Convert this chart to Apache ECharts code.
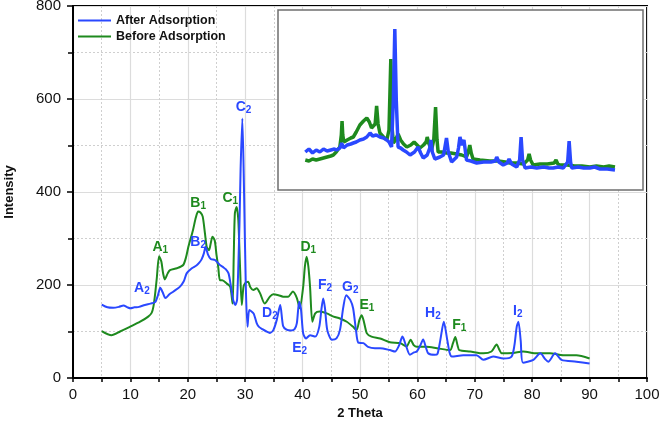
<!DOCTYPE html>
<html><head><meta charset="utf-8">
<script src="https://cdn.jsdelivr.net/npm/echarts@6/dist/echarts.min.js"></script>
<style>html,body{margin:0;padding:0;background:#fff}#c{width:660px;height:429px}</style>
</head><body><div id="c"></div>
<script>
// ---- data (2 Theta, Intensity) ----
const afterMain = [[5,158],[6,152],[7,151],[8,153],[8.8,156],[9.5,152],[10,150],[10.7,152],[11.5,153],[12.5,157],[13.5,160],[14.3,163],[14.8,178],[15.2,194],[15.6,185],[16.1,172],[16.8,180],[17.5,186],[18.6,196],[19.3,208],[19.8,225],[20.7,236],[21.5,242],[22.0,248],[22.4,255],[22.8,268],[23.1,282],[23.5,266],[24.0,256],[24.7,254],[25.3,247],[25.6,243],[26.2,238],[26.6,234],[27.1,225],[27.5,198],[27.9,168],[28.3,157],[28.6,170],[29.0,330],[29.2,450],[29.5,558],[29.8,400],[30.1,200],[30.4,110],[30.7,146],[31.1,143],[31.5,138],[32.0,118],[32.4,110],[33.0,105],[33.7,100],[34.3,97],[34.9,103],[35.5,125],[36.1,157],[36.6,112],[37.2,104],[38.0,102],[38.6,105],[39.0,118],[39.4,164],[39.7,150],[40.1,96],[40.6,85],[41.3,92],[42.2,89],[42.9,110],[43.3,150],[43.6,171],[43.9,150],[44.3,103],[45.1,82],[45.9,85],[46.5,103],[47.1,153],[47.6,178],[48.3,168],[48.8,150],[49.3,103],[49.7,76],[50.6,75],[51.4,67],[52.6,64],[53.5,64],[55.2,60],[56.1,57],[56.8,70],[57.4,89],[58.0,70],[58.7,50],[59.4,55],[59.9,57],[60.5,70],[61.0,83],[61.5,65],[61.9,53],[63.0,50],[63.5,52],[64.0,82],[64.6,121],[65.2,82],[65.6,55],[66.0,46],[68.0,49],[70.3,49],[71.5,39],[73.2,46],[75.0,42],[76.4,46],[76.9,70],[77.3,110],[77.6,121],[78.0,80],[78.4,33],[80.2,39],[81.4,53],[82.3,40],[82.8,35],[84.0,53],[85.1,39],[87.7,35],[90.0,31]];
const beforeMain = [[5,101],[6.7,92],[8.2,100],[9.9,110],[11.7,121],[13.1,132],[13.7,140],[14.0,153],[14.3,180],[14.6,215],[15.0,262],[15.4,250],[15.7,225],[16.0,212],[16.5,225],[16.9,232],[18.1,236],[19.2,243],[19.7,260],[20.1,282],[20.9,318],[21.4,345],[21.8,358],[22.2,356],[22.6,347],[23.0,310],[23.3,282],[23.7,275],[24.0,290],[24.3,304],[24.7,295],[25.0,265],[25.3,239],[25.6,210],[26.0,210],[26.8,203],[27.4,196],[27.8,160],[28.0,260],[28.2,354],[28.5,368],[28.8,340],[29.1,239],[29.4,157],[29.7,196],[30.0,204],[30.5,207],[30.9,195],[31.4,189],[32.0,193],[32.6,182],[33.4,160],[34.3,175],[34.9,180],[35.8,178],[36.6,175],[37.5,175],[38.3,186],[39.0,172],[39.5,150],[40.1,196],[40.4,240],[40.7,261],[41.0,240],[41.3,196],[41.7,121],[42.2,139],[43.0,143],[44.2,139],[45.4,132],[46.5,128],[47.7,121],[48.8,110],[49.4,103],[49.9,125],[50.3,135],[50.7,120],[51.2,96],[52.0,89],[53.5,85],[55.2,77],[57.0,75],[58.1,68],[58.8,82],[59.4,70],[59.9,67],[61.6,67],[63.4,64],[65.7,60],[66.2,75],[66.6,88],[67.0,70],[67.3,60],[69.2,57],[71.5,53],[72.9,57],[73.8,72],[74.3,60],[74.7,53],[76.7,54],[78.4,57],[80.8,53],[83.1,53],[85.4,49],[87.7,49],[90.0,42]];
// inset (raw pattern, arbitrary units)
const afterInset = [[5,38],[6,41],[7,37],[8,40],[9,38],[10,41],[11,39],[12,40],[13,41],[13.6,40],[14.5,42],[15,47],[15.5,42],[16.5,45],[17.5,46],[18.2,47],[19,48],[20,50],[21,51],[21.9,53],[22.8,57],[23.5,54],[24.5,55],[25.5,53],[26.5,52],[27.4,50],[28,48],[28.7,43],[29.2,90],[29.6,161],[30,90],[30.5,43],[31.2,42],[31.9,40],[32.8,38],[33.8,35],[35,38],[36,43],[36.7,37],[37.4,32],[38.5,35],[39.2,42],[39.5,50],[39.9,38],[40.6,31],[42,33],[43,35],[43.8,52],[44.3,38],[45.2,28],[46.6,33],[47.1,42],[47.5,53],[48,45],[48.6,50],[49.3,30],[50.5,29],[52.1,27],[54,28],[56,28],[57.2,29],[57.6,33],[58.2,28],[59.4,25],[60.5,27],[61,31],[61.7,26],[63.1,23],[63.9,30],[64.3,53],[64.7,30],[65.4,22],[67,23],[68.6,22],[70.5,23],[72,22],[73.1,22],[74.5,23],[75.9,22],[77.1,28],[77.5,49],[77.9,28],[78.2,22],[80,23],[81.5,22],[83.2,22],[84.5,23],[86,21],[88,21],[90.1,20]];
const beforeInset = [[5,30],[6,29],[7,31],[8,30],[9,31],[10,32],[11,33],[12,34],[12.7,35],[13.5,38],[14.5,43],[14.9,55],[15.1,69],[15.3,55],[15.6,48],[16.5,50],[17.5,52],[18.2,53],[19,58],[20,65],[21,69],[21.9,72],[22.6,68],[23.2,62],[24.2,66],[24.6,84],[25,66],[25.5,57],[26.5,53],[27.4,50],[28,60],[28.5,131],[28.9,60],[29.2,47],[29.8,50],[30.5,56],[31.2,50],[32,46],[32.9,43],[34,45],[34.9,48],[35.7,45],[36.5,42],[37.5,45],[38.2,48],[38.5,53],[38.9,47],[39.7,40],[40.3,50],[40.8,83],[41.2,50],[41.5,38],[42.5,38],[43.8,37],[45,37],[46.6,36],[48,35],[49.3,33],[49.8,38],[50.2,45],[50.6,37],[51.1,31],[53,30],[55.7,29],[58,29],[60,28],[61.2,27],[63,27],[65,26],[66.1,30],[66.5,36],[66.9,30],[67.6,25],[69.5,26],[71.5,26],[73.4,27],[73.9,30],[74.4,26],[75,25],[77,25],[79,24],[81,24],[83.2,23],[85,24],[87,23],[88.5,24],[90.1,23]];
// peak annotations: letter, subscript, series, position (2 Theta, Intensity)
const peakLabels = [
  ['A','2','after',[12.0,193]],
  ['A','1','before',[15.2,282]],
  ['B','1','before',[21.8,376]],
  ['B','2','after',[21.8,293]],
  ['C','1','before',[27.4,386]],
  ['C','2','after',[29.7,582]],
  ['D','2','after',[34.3,139]],
  ['D','1','before',[41.0,282]],
  ['E','2','after',[39.5,64]],
  ['F','2','after',[43.9,200]],
  ['G','2','after',[48.3,196]],
  ['E','1','before',[51.2,157]],
  ['H','2','after',[62.7,139]],
  ['F','1','before',[67.3,114]],
  ['I','2','after',[77.5,143]]
];
const seriesNames = {after:'After Adsorption', before:'Before Adsorption'};

const BLUE = '#2a48ff', GREEN = '#1e8a1e';
const FONT = '"Liberation Sans", Arial, sans-serif';

function marks(key, color){
  return {
    symbol:'circle', symbolSize:0, silent:true, animation:false,
    label:{show:true, position:'inside', formatter:p=>p.data.txt,
      rich:{
        m:{fontSize:14, fontWeight:'bold', color:color, fontFamily:FONT, lineHeight:16},
        s:{fontSize:10, fontWeight:'bold', color:color, fontFamily:FONT, lineHeight:16, verticalAlign:'bottom', padding:[7,0,0,0]}
      }},
    data: peakLabels.filter(p=>p[2]===key).map(p=>({coord:p[3], txt:'{m|'+p[0]+'}{s|'+p[1]+'}'}))
  };
}

const chart = echarts.init(document.getElementById('c'), null, {renderer:'canvas'});
chart.setOption({
  animation:false,
  textStyle:{fontFamily:FONT},
  grid:[
    {left:73, right:13, top:6, bottom:51, show:true, borderColor:'#000', borderWidth:2, z:0, containLabel:false, outerBoundsMode:'none'},
    {left:278, top:10, width:365, height:180, show:true, borderColor:'#6f6f6f', borderWidth:1.5, backgroundColor:'#fff', z:5, containLabel:false, outerBoundsMode:'none'}
  ],
  legend:{
    orient:'vertical', left:78, top:14, padding:0, itemGap:3, itemWidth:33, itemHeight:14,
    icon:'path://M0,6 L33,6 L33,8 L0,8 Z',
    textStyle:{fontSize:12.5, fontWeight:'bold', color:'#111', fontFamily:FONT},
    data:[seriesNames.after, seriesNames.before]
  },
  xAxis:[
    {gridIndex:0, type:'value', min:0, max:100, interval:10,
     name:'2 Theta', nameLocation:'middle', nameGap:26,
     nameTextStyle:{fontSize:13, fontWeight:'bold', color:'#111'},
     axisLine:{lineStyle:{color:'#000', width:2}},
     axisTick:{show:true, inside:false, length:4, lineStyle:{color:'#000', width:1.5}},
     minorTick:{show:true, splitNumber:2, length:4, lineStyle:{color:'#000', width:1.5}},
     axisLabel:{fontSize:15, color:'#111', margin:9},
     splitLine:{show:true, lineStyle:{color:'#dcdcdc', width:1.2}},
     minorSplitLine:{show:true, lineStyle:{color:'#cfcfcf', type:[2,2], width:1}}
    },
    {gridIndex:1, type:'value', min:-2.5, max:97.8, show:false}
  ],
  yAxis:[
    {gridIndex:0, type:'value', min:0, max:800, interval:200,
     name:'Intensity', nameLocation:'middle', nameGap:57, nameRotate:90,
     nameTextStyle:{fontSize:13, fontWeight:'bold', color:'#111'},
     axisLine:{show:true, lineStyle:{color:'#000', width:2}},
     axisTick:{show:true, inside:false, length:6, lineStyle:{color:'#000', width:1.5}},
     minorTick:{show:true, splitNumber:2, length:5, lineStyle:{color:'#000', width:1.5}},
     axisLabel:{fontSize:15, color:'#111', margin:12},
     splitLine:{show:true, lineStyle:{color:'#dcdcdc', width:1.2}},
     minorSplitLine:{show:true, lineStyle:{color:'#cfcfcf', type:[2,2], width:1}}
    },
    {gridIndex:1, type:'value', min:0, max:180, show:false}
  ],
  series:[
    {name:seriesNames.before, type:'line', xAxisIndex:0, yAxisIndex:0, data:beforeMain,
     showSymbol:false, smooth:0.25, lineStyle:{color:GREEN, width:2}, itemStyle:{color:GREEN}, z:3,
     markPoint:marks('before', GREEN)},
    {name:seriesNames.after, type:'line', xAxisIndex:0, yAxisIndex:0, data:afterMain,
     showSymbol:false, smooth:0.25, lineStyle:{color:BLUE, width:2}, itemStyle:{color:BLUE}, z:4,
     markPoint:marks('after', BLUE)},
    {name:'inset-before', type:'line', xAxisIndex:1, yAxisIndex:1, data:beforeInset,
     showSymbol:false, lineStyle:{color:GREEN, width:3.5}, z:8, silent:true},
    {name:'inset-after', type:'line', xAxisIndex:1, yAxisIndex:1, data:afterInset,
     showSymbol:false, lineStyle:{color:BLUE, width:3.5}, z:9, silent:true}
  ]
});
</script></body></html>
